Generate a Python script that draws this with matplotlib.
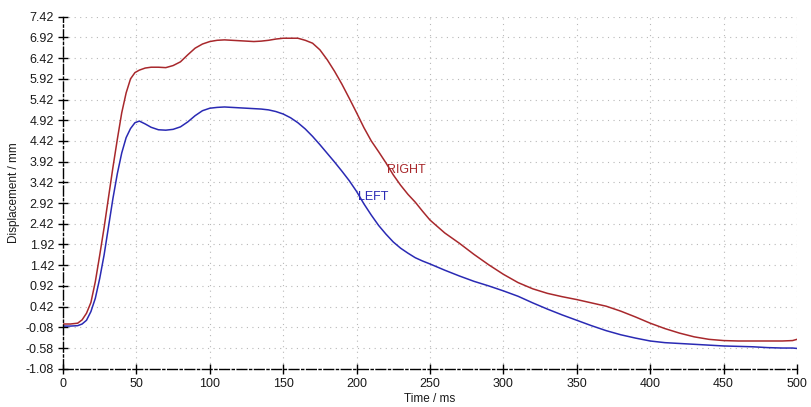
import matplotlib
matplotlib.use("Agg")
import matplotlib.pyplot as plt
import numpy as np

plt.rcParams['font.family'] = ['Liberation Sans', 'DejaVu Sans']

# time in ms
t = [0, 5, 10, 13, 16, 19, 22, 25, 28, 31, 34, 37, 40, 43, 46, 49, 52, 56, 60,
     65, 70, 75, 80, 85, 90, 95, 100, 105, 110, 115, 120, 125, 130, 135, 140,
     145, 150, 155, 160, 165, 170, 175, 180, 185, 190, 195, 200, 205, 210, 215,
     220, 225, 230, 235, 240, 245, 250, 260, 270, 280, 290, 300, 310, 320, 330,
     340, 350, 360, 370, 380, 390, 400, 410, 420, 430, 440, 450, 460, 470, 480,
     490, 497, 500]

right = [0.00, 0.00, 0.02, 0.10, 0.26, 0.52, 1.02, 1.66, 2.33, 3.06, 3.78, 4.46,
         5.10, 5.58, 5.92, 6.07, 6.13, 6.18, 6.20, 6.20, 6.19, 6.24, 6.33, 6.50,
         6.66, 6.76, 6.82, 6.85, 6.86, 6.85, 6.84, 6.83, 6.82, 6.83, 6.85, 6.88,
         6.90, 6.90, 6.90, 6.85, 6.78, 6.62, 6.38, 6.10, 5.79, 5.45, 5.10, 4.74,
         4.42, 4.16, 3.89, 3.60, 3.35, 3.13, 2.94, 2.72, 2.51, 2.20, 1.95, 1.68,
         1.43, 1.20, 1.00, 0.85, 0.74, 0.66, 0.59, 0.51, 0.43, 0.31, 0.17, 0.02,
         -0.11, -0.22, -0.31, -0.37, -0.40, -0.41, -0.41, -0.41, -0.41, -0.40,
         -0.37]

left = [-0.05, -0.05, -0.04, 0.00, 0.09, 0.30, 0.62, 1.10, 1.67, 2.35, 3.03, 3.63,
        4.13, 4.50, 4.72, 4.86, 4.90, 4.83, 4.75, 4.69, 4.68, 4.70, 4.76, 4.88,
        5.03, 5.15, 5.21, 5.23, 5.24, 5.23, 5.22, 5.21, 5.20, 5.19, 5.17, 5.13,
        5.07, 4.98, 4.86, 4.71, 4.53, 4.33, 4.12, 3.91, 3.69, 3.46, 3.20, 2.90,
        2.63, 2.38, 2.17, 1.98, 1.83, 1.71, 1.60, 1.52, 1.45, 1.30, 1.16, 1.03,
        0.92, 0.80, 0.67, 0.51, 0.36, 0.22, 0.09, -0.04, -0.16, -0.26, -0.34,
        -0.41, -0.45, -0.47, -0.49, -0.51, -0.53, -0.54, -0.55, -0.57, -0.58,
        -0.58, -0.59]

yticks = [-1.08, -0.58, -0.08, 0.42, 0.92, 1.42, 1.92, 2.42, 2.92, 3.42, 3.92,
          4.42, 4.92, 5.42, 5.92, 6.42, 6.92, 7.42]
xticks = [0, 50, 100, 150, 200, 250, 300, 350, 400, 450, 500]

red = '#a8282c'
blue = '#2a2ab4'
txt = '#1a1a1a'

fig = plt.figure(figsize=(8.11, 4.07), dpi=100)
ax = fig.add_axes([0.0777, 0.094, 0.905, 0.865])

ax.plot(t, right, color=red, lw=1.1)
ax.plot(t, left, color=blue, lw=1.1)

ax.text(221, 3.72, 'RIGHT', color=red, fontsize=9, va='center', ha='left')
ax.text(201, 3.07, 'LEFT', color=blue, fontsize=9, va='center', ha='left')

ax.set_xlim(0, 500)
ax.set_ylim(-1.08, 7.42)
ax.set_xticks(xticks)
ax.set_yticks(yticks)
ax.set_yticklabels(['%.2f' % v for v in yticks])

ax.grid(True, color='#b8b8b8', linestyle=(0, (1, 4)), lw=0.8)
for s in ['top', 'right']:
    ax.spines[s].set_visible(False)
for s in ['left', 'bottom']:
    ax.spines[s].set_linestyle((0, (7, 2, 1.5, 2)))
    ax.spines[s].set_linewidth(1.0)
    ax.spines[s].set_color('black')

ax.tick_params(direction='inout', length=7, width=1, colors='black',
               labelcolor=txt, labelsize=9, pad=3)

ax.set_xlabel('Time / ms', fontsize=8.5, color=txt, labelpad=2)
ax.set_ylabel('Displacement / mm', fontsize=8.5, color=txt, labelpad=4)

fig.savefig('out.png', dpi=100)
